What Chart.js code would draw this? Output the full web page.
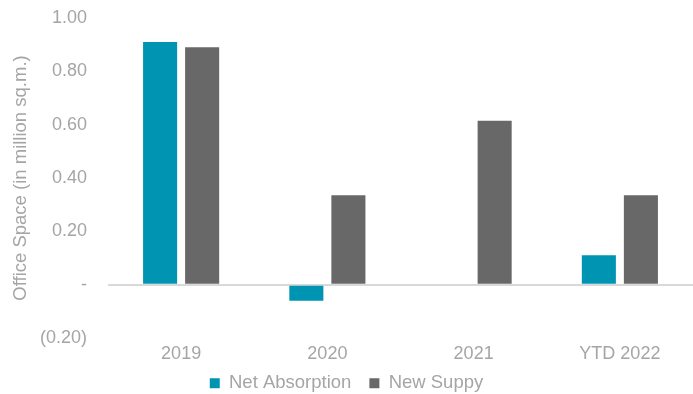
<!DOCTYPE html>
<html>
<head>
<meta charset="utf-8">
<script src="https://cdn.jsdelivr.net/npm/chart.js@4/dist/chart.umd.min.js"></script>
<style>
  html, body { margin: 0; padding: 0; background: #fff; }
  #wrap { width: 693px; height: 394px; position: relative; }
</style>
</head>
<body>
<div id="wrap"><canvas id="chart"></canvas></div>
<script>
const categories = ['2019', '2020', '2021', 'YTD 2022'];
const netAbsorption = [0.91, -0.06, 0, 0.11];
const newSupply = [0.89, 0.335, 0.615, 0.335];
const seriesNames = ['Net Absorption', 'New Suppy'];
const yTicks = [-0.2, 0, 0.2, 0.4, 0.6, 0.8, 1.0];

const textColor = '#a5a5a5';
const fontFamily = 'Liberation Sans, Arial, sans-serif';

function fmtTick(v) {
    const r = Math.round(v * 100) / 100;
    if (r === 0) return '-';
    if (r < 0) return '(' + Math.abs(r).toFixed(2) + ')';
    return r.toFixed(2);
}

// legend keeps wide item spacing but sits closer to the axis labels
const legendNudge = {
    id: 'legendNudge',
    afterLayout(chart) {
        const lg = chart.legend;
        if (!lg) return;
        lg.top -= 12;
        lg.height = lg.bottom - lg.top;
    }
};

new Chart(document.getElementById('chart'), {
    type: 'bar',
    data: {
        labels: categories,
        datasets: [
            { label: seriesNames[0], data: netAbsorption, backgroundColor: '#0094b3' },
            { label: seriesNames[1], data: newSupply, backgroundColor: '#676867' }
        ]
    },
    plugins: [legendNudge],
    options: {
        responsive: true,
        maintainAspectRatio: false,
        animation: false,
        categoryPercentage: 0.575,
        barPercentage: 0.81,
        layout: { padding: 0 },
        scales: {
            x: {
                grid: { display: false, drawTicks: false },
                border: { display: false },
                afterFit: (axis) => { axis.height = 30; },
                ticks: {
                    color: textColor,
                    padding: 5,
                    font: { family: fontFamily, size: 18 }
                }
            },
            y: {
                min: -0.2,
                max: 1.0,
                afterBuildTicks: (axis) => { axis.ticks = yTicks.map(v => ({ value: v })); },
                afterFit: (axis) => {
                    axis.width = 108;
                    axis.paddingTop = 18;
                    axis.paddingBottom = 0;
                },
                border: { display: false },
                grid: {
                    drawTicks: false,
                    lineWidth: 2,
                    color: (ctx) => (ctx.tick && Math.abs(ctx.tick.value) < 1e-9) ? '#d9d9d9' : 'rgba(0,0,0,0)'
                },
                ticks: {
                    color: textColor,
                    padding: 21,
                    callback: (v) => fmtTick(v),
                    font: { family: fontFamily, size: 18 }
                },
                title: {
                    display: true,
                    text: 'Office Space (in million sq.m.)',
                    color: textColor,
                    padding: { top: 10, bottom: 0 },
                    font: { family: fontFamily, size: 18.5 }
                }
            }
        },
        plugins: {
            legend: {
                position: 'bottom',
                maxHeight: 26,
                labels: {
                    color: textColor,
                    boxWidth: 10,
                    boxHeight: 10,
                    padding: 18,
                    font: { family: fontFamily, size: 18.5 }
                }
            },
            tooltip: { enabled: false }
        }
    }
});
</script>
</body>
</html>
